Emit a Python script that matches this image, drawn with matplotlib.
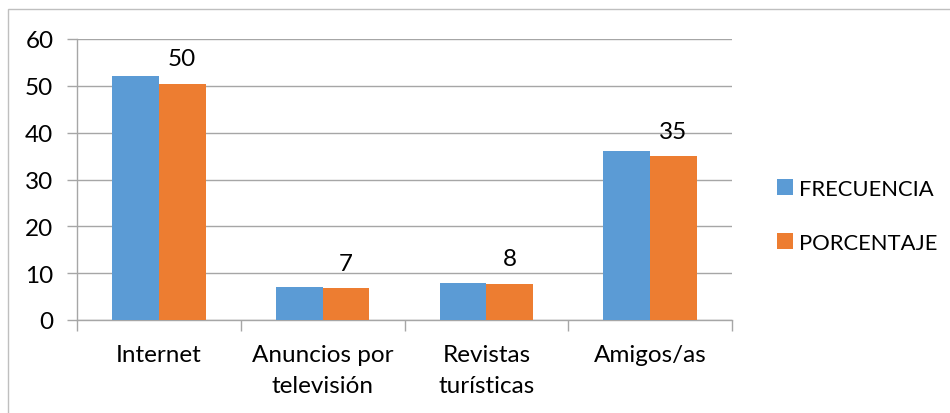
import numpy as np
import matplotlib
matplotlib.use("Agg")
import matplotlib.pyplot as plt
from matplotlib.patches import Rectangle

# Datos del gráfico
categorias = ["Internet", "Anuncios por\ntelevisión", "Revistas\nturísticas", "Amigos/as"]
frecuencia = [52, 7, 8, 36]
porcentaje = [50.49, 6.80, 7.77, 34.95]
etiquetas_pct = ["50", "7", "8", "35"]

azul = "#5B9BD5"
naranja = "#ED7D31"
gris = "#A6A6A6"

plt.rcParams["font.family"] = ["Lato", "DejaVu Sans"]
plt.rcParams["font.size"] = 17.5

fig = plt.figure(figsize=(9.5, 4.14), dpi=100)
ax = fig.add_axes([77/950, 1 - 321/414, (732 - 77)/950, (321 - 40)/414])

x = np.arange(len(categorias))
ancho = 1 / 3.5
b1 = ax.bar(x - ancho/2, frecuencia, ancho, color=azul, label="FRECUENCIA", zorder=3)
b2 = ax.bar(x + ancho/2, porcentaje, ancho, color=naranja, label="PORCENTAJE", zorder=3)

for rect, txt in zip(b2, etiquetas_pct):
    ax.annotate(txt, (rect.get_x() + rect.get_width()/2, rect.get_height()),
                xytext=(0, 18), textcoords="offset points",
                ha="center", va="center", color="black")

ax.set_xlim(-0.5, len(categorias) - 0.5)
ax.set_ylim(0, 60)
ax.set_yticks(range(0, 61, 10))
ax.set_xticks(x)
ax.set_xticklabels(categorias, linespacing=1.6)
ax.set_xticks(np.arange(-0.5, len(categorias)), minor=True)
ax.tick_params(axis="x", which="major", length=0, pad=17)
ax.tick_params(axis="x", which="minor", length=8, color=gris, width=1)
ax.tick_params(axis="y", length=7, color=gris, width=1, pad=10)

ax.grid(axis="y", color=gris, linewidth=1, zorder=0)
for s in ["top", "right"]:
    ax.spines[s].set_visible(False)
for s in ["left", "bottom"]:
    ax.spines[s].set_color(gris)
    ax.spines[s].set_linewidth(1)

leg = fig.legend(handles=[b1, b2], loc="center left",
                 bbox_to_anchor=(757/950, 1 - 217/414), frameon=False,
                 fontsize=15.8, handlelength=0.75, handleheight=0.75,
                 handletextpad=0.25, labelspacing=1.55)

# marco exterior
fig.patches.append(Rectangle((8/950, -0.1), 1.2, 1 - 10/414 + 0.1,
                             transform=fig.transFigure, fill=False,
                             edgecolor="#BFBFBF", linewidth=1))

fig.savefig("out.png", dpi=100)
